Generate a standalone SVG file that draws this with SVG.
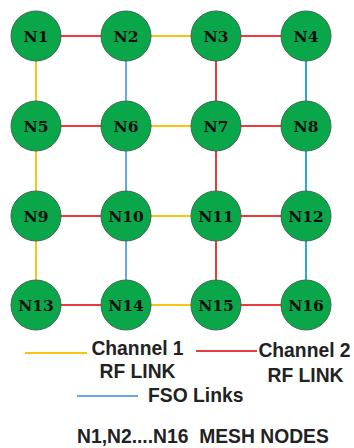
<svg xmlns="http://www.w3.org/2000/svg" width="354" height="448" viewBox="0 0 354 448">
  <style>
    .ch1 { stroke: #f5c518; stroke-width: 2; fill: none; }
    .ch2 { stroke: #ec3b3b; stroke-width: 2; fill: none; }
    .fso { stroke: #6aa6ea; stroke-width: 2; fill: none; }
    .fso2 { stroke: #2aa6e0; stroke-width: 2; fill: none; }
    .node circle { fill: #0aa64a; stroke: #3d6a4e; stroke-width: 1; }
    .node text { font-family: "DejaVu Serif", "Liberation Serif", serif; font-weight: bold; font-size: 15.5px; fill: #111; text-anchor: middle; }
    .legend { font-family: "Liberation Sans", Arial, sans-serif; font-weight: bold; font-size: 19.3px; fill: #222; }
  </style>
  <rect width="354" height="448" fill="#ffffff"/>

  <g id="connectors">
    <!-- row links -->
    <line class="ch2" x1="36" y1="36" x2="126" y2="36"/>
    <line class="ch1" x1="126" y1="36" x2="216" y2="36"/>
    <line class="ch2" x1="216" y1="36" x2="306" y2="36"/>
    <line class="ch2" x1="36" y1="126" x2="126" y2="126"/>
    <line class="ch1" x1="126" y1="126" x2="216" y2="126"/>
    <line class="ch2" x1="216" y1="126" x2="306" y2="126"/>
    <line class="ch2" x1="36" y1="216" x2="126" y2="216"/>
    <line class="ch1" x1="126" y1="216" x2="216" y2="216"/>
    <line class="ch2" x1="216" y1="216" x2="306" y2="216"/>
    <line class="ch2" x1="36" y1="305" x2="126" y2="305"/>
    <line class="ch1" x1="126" y1="305" x2="216" y2="305"/>
    <line class="ch2" x1="216" y1="305" x2="306" y2="305"/>
    <!-- column links -->
    <line class="ch1" x1="36" y1="36" x2="36" y2="305"/>
    <line class="fso" x1="126" y1="36" x2="126" y2="305"/>
    <line class="ch2" x1="216" y1="36" x2="216" y2="305"/>
    <line class="fso2" x1="306" y1="36" x2="306" y2="305"/>
  </g>

  <g id="n1" class="node"><circle cx="36" cy="36" r="25"/><text x="36" y="42">N1</text></g>
  <g id="n2" class="node"><circle cx="126" cy="36" r="25"/><text x="126" y="42">N2</text></g>
  <g id="n3" class="node"><circle cx="216" cy="36" r="25"/><text x="216" y="42">N3</text></g>
  <g id="n4" class="node"><circle cx="306" cy="36" r="25"/><text x="306" y="42">N4</text></g>
  <g id="n5" class="node"><circle cx="36" cy="126" r="25"/><text x="36" y="132">N5</text></g>
  <g id="n6" class="node"><circle cx="126" cy="126" r="25"/><text x="126" y="132">N6</text></g>
  <g id="n7" class="node"><circle cx="216" cy="126" r="25"/><text x="216" y="132">N7</text></g>
  <g id="n8" class="node"><circle cx="306" cy="126" r="25"/><text x="306" y="132">N8</text></g>
  <g id="n9" class="node"><circle cx="36" cy="216" r="25"/><text x="36" y="222">N9</text></g>
  <g id="n10" class="node"><circle cx="126" cy="216" r="25"/><text x="126" y="222">N10</text></g>
  <g id="n11" class="node"><circle cx="216" cy="216" r="25"/><text x="216" y="222">N11</text></g>
  <g id="n12" class="node"><circle cx="306" cy="216" r="25"/><text x="306" y="222">N12</text></g>
  <g id="n13" class="node"><circle cx="36" cy="305" r="25"/><text x="36" y="311">N13</text></g>
  <g id="n14" class="node"><circle cx="126" cy="305" r="25"/><text x="126" y="311">N14</text></g>
  <g id="n15" class="node"><circle cx="216" cy="305" r="25"/><text x="216" y="311">N15</text></g>
  <g id="n16" class="node"><circle cx="306" cy="305" r="25"/><text x="306" y="311">N16</text></g>

  <g id="legend">
    <line class="ch1" x1="25" y1="353" x2="87" y2="353"/>
    <text class="legend" x="137.5" y="355" text-anchor="middle">Channel 1</text>
    <text class="legend" x="137.5" y="378" text-anchor="middle">RF LINK</text>
    <line class="ch2" x1="196" y1="351" x2="257" y2="351"/>
    <text class="legend" x="304.5" y="357" text-anchor="middle">Channel 2</text>
    <text class="legend" x="305.5" y="382" text-anchor="middle">RF LINK</text>
    <line class="fso" x1="77" y1="396" x2="138" y2="396"/>
    <text class="legend" x="148" y="402">FSO Links</text>
    <text class="legend" x="77" y="443" xml:space="preserve">N1,N2....N16  MESH NODES</text>
  </g>
</svg>
